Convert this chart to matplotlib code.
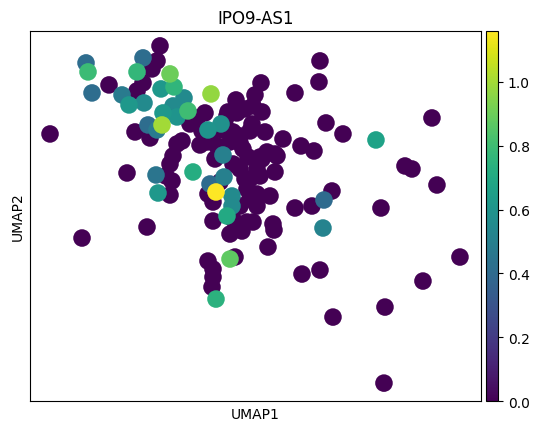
import numpy as np
import matplotlib
matplotlib.use("Agg")
import matplotlib.pyplot as plt

# UMAP embedding (arbitrary units)
umap1_zero = [50, 82, 109, 160, 157, 152, 143, 137, 127, 135, 150, 147,
              177, 182, 173, 170, 166, 172, 170, 197, 205, 202, 227, 237,
              245, 253, 255, 261, 295, 320, 319, 210, 207, 217, 230, 233,
              228, 240, 250, 252, 240, 243, 248, 260, 267, 275, 283, 301,
              314, 326, 343, 262, 277, 257, 275, 260, 245, 250, 247, 257,
              270, 250, 220, 208, 213, 240, 257, 233, 213, 247, 230, 242,
              253, 273, 274, 268, 295, 312, 332, 208, 213, 213, 212, 235,
              302, 320, 333, 385, 384, 423, 460, 381, 405, 412, 437, 432,
              215, 233, 240, 265, 200, 190, 225, 262, 236, 222]
umap2_zero = [296, 192, 345, 384, 369, 361, 347, 339, 257, 298, 292, 203,
              286, 289, 274, 266, 254, 249, 235, 312, 317, 299, 314, 317,
              321, 324, 335, 347, 337, 369, 348, 294, 288, 284, 288, 298,
              318, 294, 299, 306, 287, 281, 273, 273, 278, 276, 291, 284,
              279, 307, 296, 271, 274, 261, 258, 254, 251, 251, 241, 236,
              234, 231, 248, 236, 228, 224, 224, 211, 209, 208, 196, 199,
              208, 206, 200, 183, 222, 224, 239, 169, 161, 153, 143, 173,
              156, 160, 113, 123, 47, 149, 173, 222, 264, 261, 245, 312,
              271, 266, 261, 298, 285, 306, 305, 318, 330, 300]

umap1_expr = [86, 88, 92, 143, 137, 122, 129, 144, 148, 157, 162, 170,
              161, 174, 184, 173, 163, 177, 188, 211, 208, 221, 223, 156,
              193, 158, 224, 210, 216, 232, 232, 227, 324, 323, 376, 230, 216]
umap2_expr = [367, 358, 337, 372, 358, 335, 325, 327, 305, 300, 305, 356,
              341, 343, 332, 324, 317, 313, 319, 336, 300, 306, 275, 255,
              258, 237, 253, 246, 238, 234, 224, 214, 230, 202, 290, 171, 131]
expr_vals = [0.41, 0.79, 0.41, 0.41, 0.77, 0.48, 0.62, 0.55, 0.41, 0.48,
             1.00, 0.90, 0.62, 0.76, 0.55, 0.55, 0.62, 0.60, 0.80, 0.97,
             0.60, 0.58, 0.50, 0.45, 0.72, 0.62, 0.50, 0.40, 1.16, 0.55,
             0.55, 0.70, 0.40, 0.52, 0.67, 0.87, 0.74]

x = np.array(umap1_zero + umap1_expr, dtype=float)
y = np.array(umap2_zero + umap2_expr, dtype=float)
c = np.array([0.0] * len(umap1_zero) + expr_vals)
order = np.argsort(c, kind="stable")

fig = plt.figure(figsize=(5.39, 4.31), dpi=100)
ax = fig.add_axes([0.0557, 0.067, 0.8366, 0.859])
cax = fig.add_axes([0.902, 0.067, 0.022, 0.859])

sc = ax.scatter(x[order], y[order], c=c[order], cmap="viridis",
                vmin=0, vmax=1.16, s=160, linewidths=0)
ax.set_xlim(30, 481)
ax.set_ylim(29, 399)
ax.set_xticks([])
ax.set_yticks([])
ax.set_xlabel("UMAP1")
ax.set_ylabel("UMAP2")
ax.set_title("IPO9-AS1")

cb = fig.colorbar(sc, cax=cax)
cb.set_ticks([0.0, 0.2, 0.4, 0.6, 0.8, 1.0])
cb.outline.set_linewidth(0.8)

fig.savefig("out.png", dpi=100)
